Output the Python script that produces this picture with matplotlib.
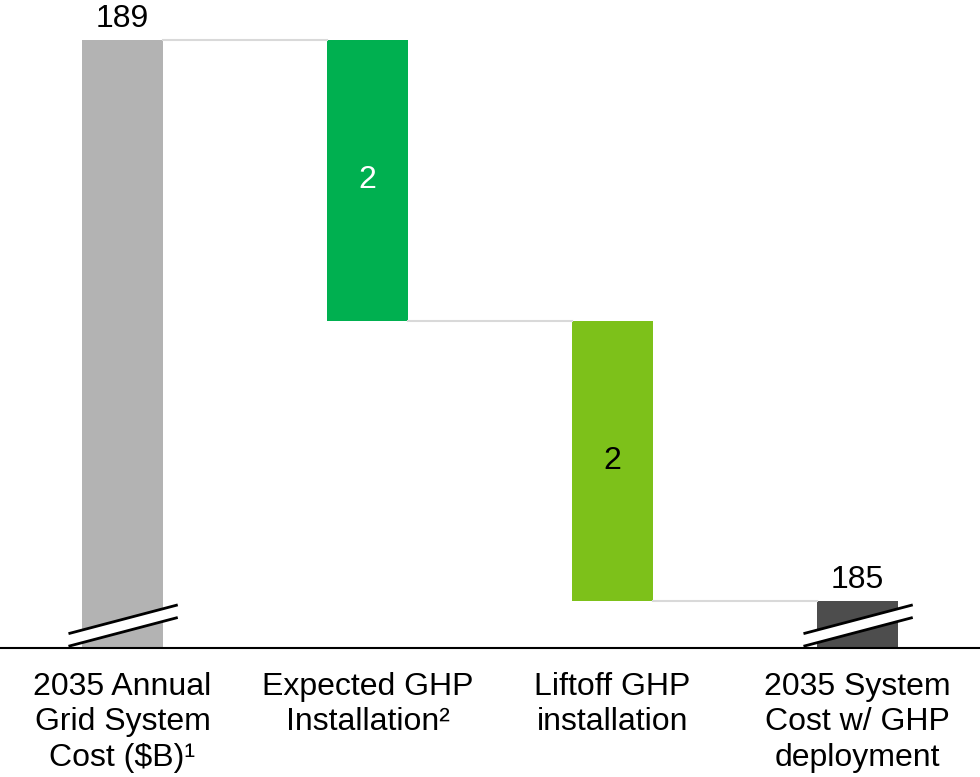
import numpy as np
import matplotlib.pyplot as plt
from matplotlib.patches import Polygon

plt.rcParams['font.family'] = ['Liberation Sans', 'DejaVu Sans']

categories = ['2035 Annual\nGrid System\nCost ($B)\u00b9',
              'Expected GHP\nInstallation\u00b2',
              'Liftoff GHP\ninstallation',
              '2035 System\nCost w/ GHP\ndeployment']
start_total = 189
steps = [-2, -2]
end_total = 185
bar_colors = ['#b3b3b3', '#00b050', '#7dc11a', '#4d4d4d']
label_colors = ['black', 'white', 'black', 'black']

fig = plt.figure(figsize=(9.8, 7.77), dpi=100)
ax = fig.add_axes([0, 0.166, 1, 0.834])

x = np.arange(len(categories))
width = 0.327
fs = 23

# running levels for the floating bars
levels = [start_total]
for s in steps:
    levels.append(levels[-1] + s)

# totals
ax.bar(x[0], start_total, width, color=bar_colors[0])
ax.bar(x[-1], end_total, width, color=bar_colors[-1])
ax.text(x[0], start_total + 0.04, str(start_total), ha='center', va='bottom', fontsize=fs)
ax.text(x[-1], end_total + 0.04, str(end_total), ha='center', va='bottom', fontsize=fs)

# floating steps
for i, s in enumerate(steps):
    top = levels[i]
    bottom = levels[i + 1]
    ax.bar(x[i + 1], top - bottom, width, bottom=bottom, color=bar_colors[i + 1])
    ax.text(x[i + 1], (top + bottom) / 2, str(abs(s)), ha='center', va='center',
            fontsize=fs, color=label_colors[i + 1])

# connectors between bars
for i in range(len(levels)):
    ax.plot([x[i] + width / 2, x[i + 1] - width / 2], [levels[i], levels[i]],
            color='#d9d9d9', lw=1.5, zorder=1)

ymin, ymax = 184.665, 189.285
ax.set_ylim(ymin, ymax)
ax.set_xlim(-0.5, 3.5)

# axis break marks on the total bars
for xi in (x[0], x[-1]):
    x0, x1 = xi - 0.215, xi + 0.22
    lo0, lo1 = ymin + 0.015, ymin + 0.215
    gap = 0.09
    ax.add_patch(Polygon([[x0, lo0], [x1, lo1], [x1, lo1 + gap], [x0, lo0 + gap]],
                         closed=True, facecolor='white', edgecolor='none', zorder=3))
    ax.plot([x0, x1], [lo0, lo1], color='black', lw=2, zorder=4)
    ax.plot([x0, x1], [lo0 + gap, lo1 + gap], color='black', lw=2, zorder=4)

ax.set_xticks(x)
ax.set_xticklabels(categories, fontsize=fs, linespacing=1.25)
ax.tick_params(axis='x', length=0, pad=17)
ax.set_yticks([])
for side in ['top', 'right', 'left']:
    ax.spines[side].set_visible(False)
ax.spines['bottom'].set_linewidth(1.5)

plt.savefig('out.png', dpi=100)
